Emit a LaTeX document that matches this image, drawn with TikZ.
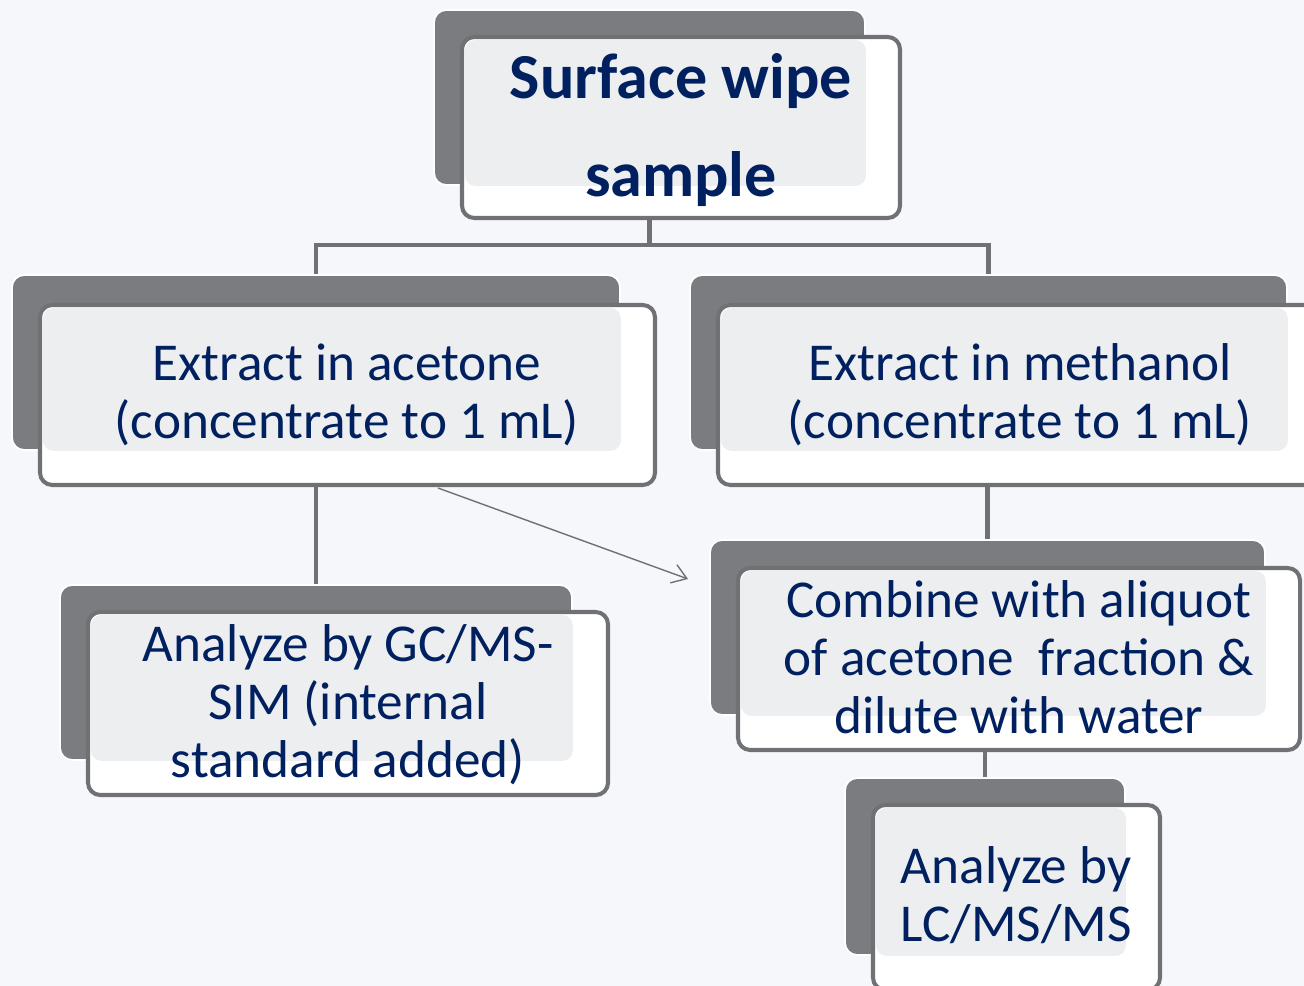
\documentclass[tikz,border=0pt]{standalone}
\usepackage{fontspec}
\setmainfont{Carlito}
\usetikzlibrary{fit, arrows.meta}

\definecolor{boxgray}{RGB}{123,124,128}
\definecolor{edgegray}{RGB}{112,113,117}
\definecolor{shadegray}{RGB}{237,238,240}
\definecolor{navy}{RGB}{0,32,96}
\definecolor{paper}{RGB}{246,247,250}

\begin{document}
\begin{tikzpicture}[
		x=0.02cm, y=-0.02cm,
		% Styles for the two layered cards
		backbox/.style={fill=boxgray, draw=white, line width=1pt, rounded corners=7pt, inner sep=0pt},
		frontbox/.style={fill=white, draw=edgegray, line width=2.3pt, rounded corners=7pt, inner sep=0pt,
			path picture={\fill[shadegray, rounded corners=6pt]
				([shift={(3,3)}]path picture bounding box.north west) rectangle (#1.south east);}},
		cardtext/.style={text=navy, align=center, inner sep=0pt, font=\fontsize{30.3}{32.9}\selectfont},
		titletext/.style={cardtext, font=\fontsize{36.5}{55.6}\selectfont\bfseries},
		% Connectors
		link/.style={draw=edgegray, line width=2.3pt},
		crosslink/.style={draw=edgegray, line width=0.8pt, -{Straight Barb[length=8pt, width=11pt]}}
	]
	\path[use as bounding box, fill=paper] (0,0) rectangle (1304,986);
	
	% Surface wipe
	\node[backbox, fit={(434,10) (865,185)}] (wipeback) {};
	\node[frontbox=wipeback, fit={(462,37) (900,218)}] (wipefront) {};
	\node[titletext] (wipetext) at (681,130) {Surface wipe\\sample};
	
	% acetone branch
	\node[backbox, fit={(12,275) (620,450)}] (acetoneback) {};
	\node[frontbox=acetoneback, fit={(40,305) (655,485)}] (acetonefront) {};
	\node[cardtext] (acetonetext) at (347,395) {Extract in acetone\\(concentrate to 1 mL)};
	\node[backbox, fit={(60,585) (572,760)}] (gcback) {};
	\node[frontbox=gcback, fit={(88,612) (608,795)}] (gcfront) {};
	\node[cardtext] (gctext) at (348,705) {Analyze by GC/MS-\\SIM (internal\\standard added)};
	
	% methanol branch
	\node[backbox, fit={(690,275) (1287,450)}] (methanolback) {};
	\node[frontbox=methanolback, fit={(718,305) (1322,485)}] (methanolfront) {};
	\node[cardtext] (methanoltext) at (1020,395) {Extract in methanol\\(concentrate to 1 mL)};
	\node[backbox, fit={(710,540) (1265,715)}] (combineback) {};
	\node[frontbox=combineback, fit={(738,568) (1300,750)}] (combinefront) {};
	\node[cardtext] (combinetext) at (1019,657) {Combine with aliquot\\of acetone\ \ fraction \&\\dilute with water};
	\node[backbox, fit={(845,778) (1125,955)}] (lcback) {};
	\node[frontbox=lcback, fit={(873,805) (1160,990)}] (lcfront) {};
	\node[cardtext] (lctext) at (1016,895) {Analyze by\\LC/MS/MS};
	
	% tree lines
	\coordinate (split) at (650,245);
	\draw[link] (wipeback.south |- wipefront.south) -- (wipeback.south |- split);
	\draw[link] (acetoneback.north) |- (split) -| (methanolback.north);
	\draw[link] (gcback.north) -- (gcback.north |- acetonefront.south);
	\draw[link] (combineback.north) -- (combineback.north |- methanolfront.south);
	\draw[link] (lcback.north) -- (lcback.north |- combinefront.south);
	
	% aliquot goes across
	\coordinate (crossstart) at (438,488);
	\coordinate (crossend) at (688,579);
	\draw[crosslink] (crossstart) -- (crossend);
\end{tikzpicture}
\end{document}
